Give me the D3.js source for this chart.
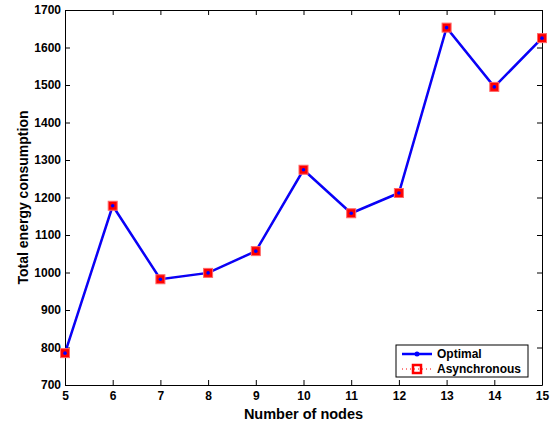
<!DOCTYPE html>
<html>
<head>
<meta charset="utf-8">
<script src="https://cdn.jsdelivr.net/npm/d3@7"></script>
<style>
  body { margin: 0; background: #fff; }
  text { font-family: "Liberation Sans", Arial, sans-serif; font-weight: bold; }
</style>
</head>
<body>
<div id="chart"></div>
<script>
const nodes = [5, 6, 7, 8, 9, 10, 11, 12, 13, 14, 15];
const optimal = [785, 1178, 982, 999, 1057, 1274, 1158, 1212, 1653, 1495, 1625];
const asynchronous = [785, 1178, 982, 999, 1057, 1274, 1158, 1212, 1653, 1495, 1625];
const yTicks = [700, 800, 900, 1000, 1100, 1200, 1300, 1400, 1500, 1600, 1700];

const width = 557, height = 424;
const plotLeft = 65, plotRight = 542, plotTop = 10, plotBottom = 385;

const svg = d3.select("#chart").append("svg")
  .attr("width", width).attr("height", height);

const x = d3.scaleLinear().domain([5, 15]).range([plotLeft, plotRight]);
const y = d3.scaleLinear().domain([700, 1700]).range([plotBottom, plotTop]);

// axes with inward ticks
const fs = "12px";
svg.append("g").attr("transform", `translate(0,${plotBottom})`)
  .call(d3.axisBottom(x).tickValues(nodes).tickFormat(d3.format("d")).tickSizeInner(-5).tickSizeOuter(0).tickPadding(6))
  .call(g => g.selectAll("text").style("font-size", fs).attr("fill", "#000"));
svg.append("g").attr("transform", `translate(0,${plotTop})`)
  .call(d3.axisTop(x).tickValues(nodes).tickFormat("").tickSizeInner(-5).tickSizeOuter(0));
svg.append("g").attr("transform", `translate(${plotLeft},0)`)
  .call(d3.axisLeft(y).tickValues(yTicks).tickFormat(d3.format("d")).tickSizeInner(-5).tickSizeOuter(0).tickPadding(4))
  .call(g => g.selectAll("text").style("font-size", fs).attr("fill", "#000"));
svg.append("g").attr("transform", `translate(${plotRight},0)`)
  .call(d3.axisRight(y).tickValues(yTicks).tickFormat("").tickSizeInner(-5).tickSizeOuter(0));
svg.selectAll(".domain").attr("stroke", "#000");
svg.selectAll(".tick line").attr("stroke", "#000");

// axis labels
svg.append("text").attr("x", (plotLeft + plotRight) / 2).attr("y", 419)
  .attr("text-anchor", "middle").style("font-size", "14.5px").text("Number of nodes");
svg.append("text").attr("transform", `translate(28,${(plotTop + plotBottom) / 2}) rotate(-90)`)
  .attr("text-anchor", "middle").style("font-size", "14px").text("Total energy consumption");

const line = d3.line().x((d, i) => x(nodes[i])).y(d => y(d));

// optimal series
svg.append("path").datum(optimal).attr("d", line)
  .attr("fill", "none").attr("stroke", "#0000ff").attr("stroke-width", 2.5);

// asynchronous series
svg.append("path").datum(asynchronous).attr("d", line)
  .attr("fill", "none").attr("stroke", "#ff0000").attr("stroke-width", 1)
  .attr("stroke-dasharray", "1,3").attr("opacity", 0.4);
svg.selectAll(".sq").data(asynchronous).enter().append("rect")
  .attr("x", (d, i) => x(nodes[i]) - 4.5).attr("y", d => y(d) - 4.5)
  .attr("width", 9).attr("height", 9)
  .attr("fill", "#ff0000").attr("stroke", "#ff6666").attr("stroke-width", 1);
svg.selectAll(".dot").data(optimal).enter().append("circle")
  .attr("cx", (d, i) => x(nodes[i])).attr("cy", d => y(d)).attr("r", 1.8)
  .attr("fill", "#0000ff");

// legend
const lg = svg.append("g").attr("transform", "translate(396,345)");
lg.append("rect").attr("width", 132).attr("height", 32)
  .attr("fill", "#fff").attr("stroke", "#000");
lg.append("line").attr("x1", 6).attr("x2", 36).attr("y1", 9).attr("y2", 9)
  .attr("stroke", "#0000ff").attr("stroke-width", 2.5);
lg.append("circle").attr("cx", 21).attr("cy", 9).attr("r", 2.5).attr("fill", "#0000ff");
lg.append("text").attr("x", 41).attr("y", 13).style("font-size", "12px").text("Optimal");
lg.append("line").attr("x1", 6).attr("x2", 36).attr("y1", 24).attr("y2", 24)
  .attr("stroke", "#ff0000").attr("stroke-width", 1).attr("stroke-dasharray", "1,3");
lg.append("rect").attr("x", 17).attr("y", 20).attr("width", 8).attr("height", 8)
  .attr("fill", "none").attr("stroke", "#ff0000").attr("stroke-width", 2.5);
lg.append("text").attr("x", 41).attr("y", 28).style("font-size", "12px").text("Asynchronous");
</script>
</body>
</html>
